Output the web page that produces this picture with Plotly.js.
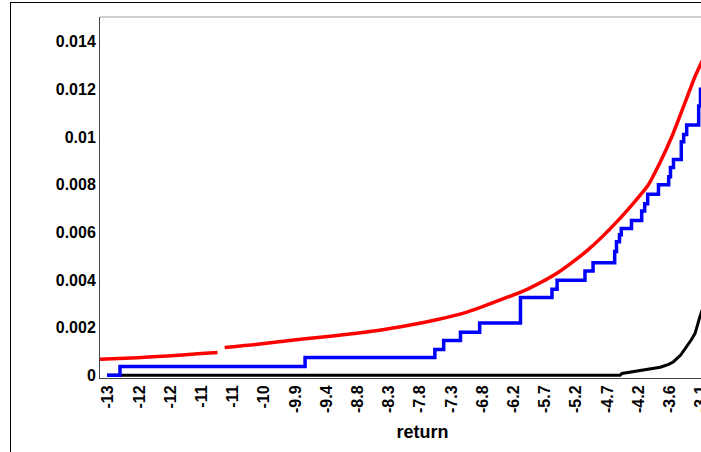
<!DOCTYPE html>
<html>
<head>
<meta charset="utf-8">
<script src="https://cdn.plot.ly/plotly-3.0.1.min.js"></script>
<style>
  html, body { margin: 0; padding: 0; width: 701px; height: 452px; overflow: hidden; background: #fff; }
  #frame { position: absolute; left: 10px; top: 2px; width: 900px; height: 700px; border: 1px solid #000; pointer-events: none; }
  #chart { position: absolute; left: 0; top: 0; }
</style>
</head>
<body>
<div id="chart"></div>
<div id="frame"></div>
<script>
// ---- data ----
const redX = [-13.13, -12.5, -12.0, -11.5, -11.17, -11.1, -11.05, -10.5, -10.0, -9.5, -9.0, -8.5, -8.0, -7.5, -7.0, -6.5, -6.0, -5.5, -5.0, -4.5, -4.0, -3.8, -3.6, -3.4, -3.2, -3.0, -2.8];
const redY = [0.00067, 0.00074, 0.00081, 0.00090, 0.00096, null, 0.00117, 0.00130, 0.00145, 0.00159, 0.00172, 0.00188, 0.00209, 0.00234, 0.00266, 0.00312, 0.00362, 0.00430, 0.00525, 0.00648, 0.00795, 0.00890, 0.01000, 0.01130, 0.01260, 0.01370, 0.01500];

const blueX = [-13.01, -12.795, -9.71, -7.547, -7.40, -7.12, -6.80, -6.12, -5.595, -5.51, -5.045, -4.91, -4.55, -4.52, -4.47, -4.44, -4.27, -4.10, -4.05, -4.00, -3.82, -3.65, -3.62, -3.57, -3.44, -3.40, -3.35, -3.15, -3.12, -3.05, -2.9];
const blueY = [0, 0.00037, 0.00075, 0.00108, 0.00146, 0.00181, 0.00220, 0.00326, 0.00361, 0.00399, 0.00438, 0.00472, 0.00520, 0.00560, 0.00590, 0.00616, 0.00650, 0.00690, 0.00720, 0.00760, 0.00800, 0.00833, 0.00872, 0.00906, 0.00980, 0.01010, 0.01050, 0.01130, 0.01200, 0.01250, 0.01300];

const blackX = [-13.01, -4.46, -4.43, -4.30, -4.12, -3.95, -3.79, -3.65, -3.57, -3.45, -3.35, -3.27, -3.21, -3.13, -3.0];
const blackY = [0, 0, 0.00008, 0.00013, 0.00019, 0.00026, 0.00034, 0.00046, 0.00057, 0.00085, 0.00120, 0.00150, 0.00176, 0.00246, 0.00340];

const xTickVals = [-12.99, -12.47, -11.95, -11.43, -10.91, -10.39, -9.87, -9.35, -8.83, -8.31, -7.79, -7.27, -6.75, -6.23, -5.71, -5.19, -4.67, -4.15, -3.63, -3.11];
const xTickText = ['-13', '-12', '-12', '-11', '-11', '-10', '-9.9', '-9.4', '-8.8', '-8.3', '-7.8', '-7.3', '-6.8', '-6.2', '-5.7', '-5.2', '-4.7', '-4.2', '-3.6', '-3.1'];
const yTickVals = [0, 0.002, 0.004, 0.006, 0.008, 0.010, 0.012, 0.014];
const yTickText = ['0', '0.002', '0.004', '0.006', '0.008', '0.01', '0.012', '0.014'];

const FONT = '"Liberation Sans", Arial, sans-serif';

const traces = [
  { x: blackX, y: blackY, type: 'scatter', mode: 'lines', line: { color: '#000000', width: 3 }, hoverinfo: 'none' },
  { x: blueX, y: blueY, type: 'scatter', mode: 'lines', line: { color: '#0000ff', width: 3.5, shape: 'hv' }, hoverinfo: 'none' },
  { x: redX, y: redY, type: 'scatter', mode: 'lines', line: { color: '#ff0000', width: 3.5, shape: 'spline', smoothing: 0.6 }, connectgaps: false, hoverinfo: 'none' }
];

const layout = {
  width: 770,
  height: 480,
  margin: { l: 100, r: 25, t: 17, b: 102 },
  paper_bgcolor: 'rgba(0,0,0,0)',
  plot_bgcolor: '#ffffff',
  showlegend: false,
  font: { family: FONT, size: 16, color: '#000', weight: 'bold' },
  xaxis: {
    range: [-13.128, -2.378],
    tickmode: 'array',
    tickvals: xTickVals,
    ticktext: xTickText,
    tickangle: -90,
    ticks: '',
    showgrid: false,
    zeroline: false,
    showline: true,
    linecolor: '#444',
    linewidth: 1,
    tickfont: { family: FONT, size: 16, weight: 'bold', color: '#000' },
    title: { text: 'return', font: { family: FONT, size: 18, weight: 'bold', color: '#000' }, standoff: 13 }
  },
  yaxis: {
    range: [-0.000113, 0.015036],
    tickmode: 'array',
    tickvals: yTickVals,
    ticktext: yTickText,
    ticks: '',
    showgrid: false,
    zeroline: false,
    showline: true,
    linecolor: '#444',
    linewidth: 1,
    tickfont: { family: FONT, size: 16, weight: 'bold', color: '#000' }
  },
  shapes: [
    { type: 'line', xref: 'paper', yref: 'paper', x0: 0, x1: 1, y0: 1, y1: 1, line: { color: '#a0a0a0', width: 1 } }
  ]
};

Plotly.newPlot('chart', traces, layout, { staticPlot: true, displayModeBar: false });
</script>
</body>
</html>
